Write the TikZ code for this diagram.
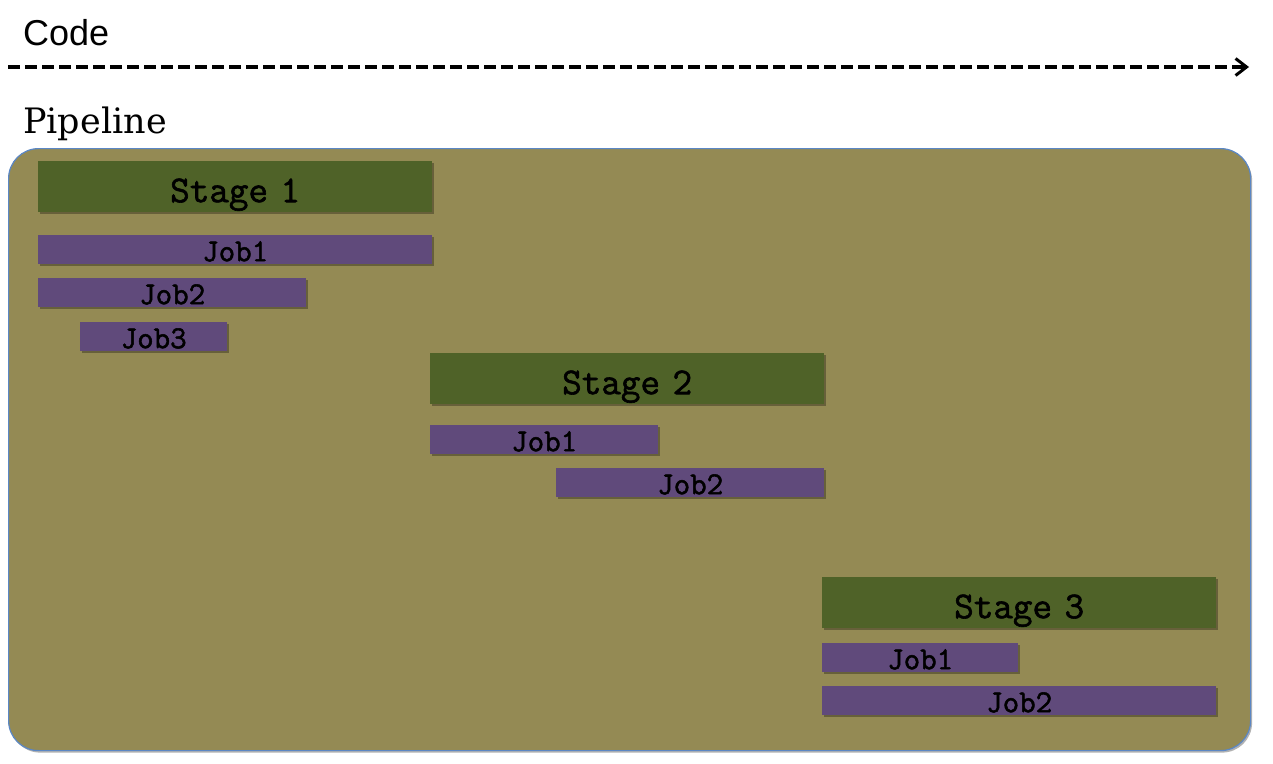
\documentclass[tikz,border=0pt]{standalone}
\usepackage{fontspec}
\usetikzlibrary{arrows.meta,shadows}
\newfontfamily\codefont{Liberation Sans}
\newfontfamily\pipefont{DejaVu Serif}
\newfontfamily\tipofont[FakeBold=1.6]{Latin Modern Mono}
\definecolor{fundo}{HTML}{948A54}
\definecolor{estagio}{HTML}{4F6228}
\definecolor{tarefa}{HTML}{604A7B}
\definecolor{borda}{HTML}{5B87C5}

\begin{document}
\begin{tikzpicture}[x=1pt,y=-1pt,
	sombra/.style={drop shadow={shadow xshift=1.5pt,shadow yshift=-2pt,opacity=0.3,fill=black}},
	estagiobox/.style={sombra,fill=estagio,anchor=north west,inner sep=0pt,minimum height=51pt,minimum width=394pt,text height=31pt,text depth=0pt,font=\tipofont\fontsize{38}{42}\selectfont},
	tarefabox/.style={sombra,fill=tarefa,anchor=north west,inner sep=0pt,minimum height=29pt,text height=23pt,text depth=0pt,font=\tipofont\fontsize{32}{36}\selectfont},
	rotulo/.style={anchor=base west,inner sep=0pt}]

		\useasboundingbox (0,0) rectangle (1273,763);

		% Linha do código
		\node[rotulo,font=\codefont\fontsize{36}{40}\selectfont] (code) at (23,45) {Code};
		\coordinate (inicio) at (8,67);
		\coordinate (fim) at (1249,67);
		\draw[line width=3.3pt,dash pattern=on 12pt off 5pt,-{Straight Barb[length=11pt,width=17pt,line width=3pt]}] (inicio) -- (fim);

		% Pipeline
		\node[rotulo,font=\pipefont\fontsize{35}{40}\selectfont] (pipe) at (23,133) {Pipeline};
		\node[sombra,draw=borda,line width=1.2pt,fill=fundo,rounded corners=30pt,anchor=north west,inner sep=0pt,minimum width=1242pt,minimum height=602pt] (pipeline) at (8,148) {};

		% Estágio 1
		\node[estagiobox] (st1) at (38,161) {Stage\kern-7pt\ 1};
		\node[tarefabox,minimum width=394pt] (st1j1) at (38,235) {Job1};
		\node[tarefabox,minimum width=268pt] (st1j2) at (38,278) {Job2};
		\node[tarefabox,minimum width=147pt] (st1j3) at (80,322) {Job3};

		% Estágio 2
		\node[estagiobox] (st2) at (430,353) {Stage\kern-7pt\ 2};
		\node[tarefabox,minimum width=228pt] (st2j1) at (430,425) {Job1};
		\node[tarefabox,minimum width=268pt] (st2j2) at (556,468) {Job2};

		% Estágio 3
		\node[estagiobox] (st3) at (822,577) {Stage\kern-7pt\ 3};
		\node[tarefabox,minimum width=196pt] (st3j1) at (822,643) {Job1};
		\node[tarefabox,minimum width=394pt] (st3j2) at (822,686) {Job2};

	\end{tikzpicture}
\end{document}
